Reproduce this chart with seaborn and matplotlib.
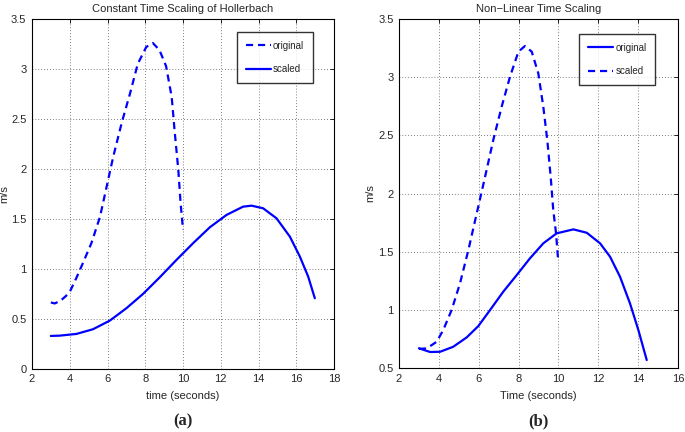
import matplotlib
matplotlib.use("Agg")
import matplotlib.pyplot as plt
import seaborn as sns
import pandas as pd

# Panel (a): Constant Time Scaling of Hollerbach
a_orig_t = [3.0, 3.2, 3.5, 3.8, 4.0, 4.35, 4.7, 5.15, 5.6, 5.95, 6.3, 6.75, 7.2, 7.6, 8.05, 8.4,
            8.75, 9.1, 9.4, 9.55, 9.75, 9.87, 10.0]
a_orig_v = [0.665, 0.655, 0.68, 0.73, 0.77, 0.91, 1.06, 1.26, 1.52, 1.82, 2.12, 2.46, 2.76, 3.05,
            3.22, 3.26, 3.19, 3.03, 2.72, 2.39, 1.99, 1.66, 1.39]
a_scal_t = [3.0, 3.47, 4.35, 5.23, 6.12, 7.0, 7.88, 8.77, 9.65, 10.53, 11.42, 12.3, 13.18, 13.63,
            14.24, 14.95, 15.66, 16.19, 16.63, 16.98]
a_scal_v = [0.33, 0.333, 0.35, 0.397, 0.483, 0.607, 0.75, 0.917, 1.09, 1.257, 1.417, 1.54, 1.623,
            1.633, 1.607, 1.507, 1.323, 1.123, 0.923, 0.707]

# Panel (b): Non-Linear Time Scaling
b_orig_t = [3.0, 3.56, 4.06, 4.72, 5.4, 5.98, 6.57, 7.23, 7.91, 8.57, 9.24, 9.91, 10.75, 11.42,
            12.09, 12.59, 13.09, 13.59, 14.01, 14.43]
b_orig_v = [0.67, 0.638, 0.64, 0.683, 0.764, 0.861, 0.999, 1.156, 1.30, 1.443, 1.572, 1.658, 1.692,
            1.663, 1.572, 1.457, 1.285, 1.056, 0.827, 0.569]
b_scal_t = [3.0, 3.39, 3.89, 4.22, 4.64, 5.06, 5.48, 5.9, 6.32, 6.73, 7.15, 7.57, 7.99, 8.32, 8.66,
            8.99, 9.24, 9.44, 9.61, 9.74, 9.88, 9.99]
b_scal_v = [0.665, 0.669, 0.726, 0.827, 0.999, 1.228, 1.514, 1.83, 2.145, 2.46, 2.746, 3.004, 3.219,
            3.268, 3.219, 3.033, 2.746, 2.46, 2.145, 1.858, 1.658, 1.414]

sns.set_style("white")
plt.rcParams['font.family'] = ['Liberation Sans', 'DejaVu Sans']

fig = plt.figure(figsize=(6.85, 4.32), dpi=100)
ax1 = fig.add_axes([0.0467, 0.146, 0.441, 0.810])
ax2 = fig.add_axes([0.5825, 0.148, 0.4073, 0.808])

blue = (0, 0, 1)
lw = 1.6
dash = (3.2, 2.2)

def style(ax, xlim, ylim, xticks, yticks, title, xlabel, ylab_x):
    ax.set_xlim(*xlim)
    ax.set_ylim(*ylim)
    ax.set_xticks(xticks)
    ax.set_yticks(yticks)
    ax.set_xticklabels([f"{t:g}" for t in xticks])
    ax.set_yticklabels([f"{t:g}" for t in yticks])
    ax.grid(True, linestyle=(0, (1, 2.5)), color='#555555', linewidth=0.6)
    ax.tick_params(direction='in', top=True, right=True, length=3, width=0.6,
                   labelsize=8, pad=4, color='black')
    for s in ax.spines.values():
        s.set_color('black')
        s.set_linewidth(0.8)
    ax.set_title(title, fontsize=8, pad=5)
    ax.set_xlabel(xlabel, fontsize=8, labelpad=5)
    ax.set_ylabel("m/s", fontsize=8)
    ax.yaxis.set_label_coords(ylab_x, 0.5)

# Panel (a)
da1 = pd.DataFrame({"t": a_orig_t, "v": a_orig_v})
da2 = pd.DataFrame({"t": a_scal_t, "v": a_scal_v})
sns.lineplot(data=da1, x="t", y="v", ax=ax1, color=blue, lw=lw, dashes=False,
             linestyle=(0, dash), label="original", sort=True)
sns.lineplot(data=da2, x="t", y="v", ax=ax1, color=blue, lw=lw, label="scaled", sort=True)
style(ax1, (2, 18), (0, 3.5), list(range(2, 19, 2)), [0, 0.5, 1, 1.5, 2, 2.5, 3, 3.5],
      "Constant Time Scaling of Hollerbach", "time (seconds)", -0.075)
leg1 = ax1.legend(loc='upper right', bbox_to_anchor=(0.93, 0.963), fontsize=7,
                  frameon=True, fancybox=False, edgecolor='black', handlelength=2.6,
                  handletextpad=0.2, labelspacing=1.4, borderpad=0.9, borderaxespad=0)
leg1.get_frame().set_linewidth(1.0)

# Panel (b)
db1 = pd.DataFrame({"t": b_orig_t, "v": b_orig_v})
db2 = pd.DataFrame({"t": b_scal_t, "v": b_scal_v})
sns.lineplot(data=db1, x="t", y="v", ax=ax2, color=blue, lw=lw, label="original", sort=True)
sns.lineplot(data=db2, x="t", y="v", ax=ax2, color=blue, lw=lw, dashes=False,
             linestyle=(0, dash), label="scaled", sort=True)
style(ax2, (2, 16), (0.5, 3.5), list(range(2, 17, 2)), [0.5, 1, 1.5, 2, 2.5, 3, 3.5],
      "Non\u2212Linear Time Scaling", "Time (seconds)", -0.085)
leg2 = ax2.legend(loc='upper right', bbox_to_anchor=(0.918, 0.957), fontsize=7,
                  frameon=True, fancybox=False, edgecolor='black', handlelength=2.6,
                  handletextpad=0.2, labelspacing=1.4, borderpad=0.9, borderaxespad=0)
leg2.get_frame().set_linewidth(1.0)

fig.text(0.2676, 0.015, "(a)", fontsize=12, fontweight='bold',
         family=['Liberation Serif', 'DejaVu Serif'], ha='center')
fig.text(0.786, 0.015, "(b)", fontsize=12, fontweight='bold',
         family=['Liberation Serif', 'DejaVu Serif'], ha='center')

fig.savefig("out.png", dpi=100, facecolor='white')
